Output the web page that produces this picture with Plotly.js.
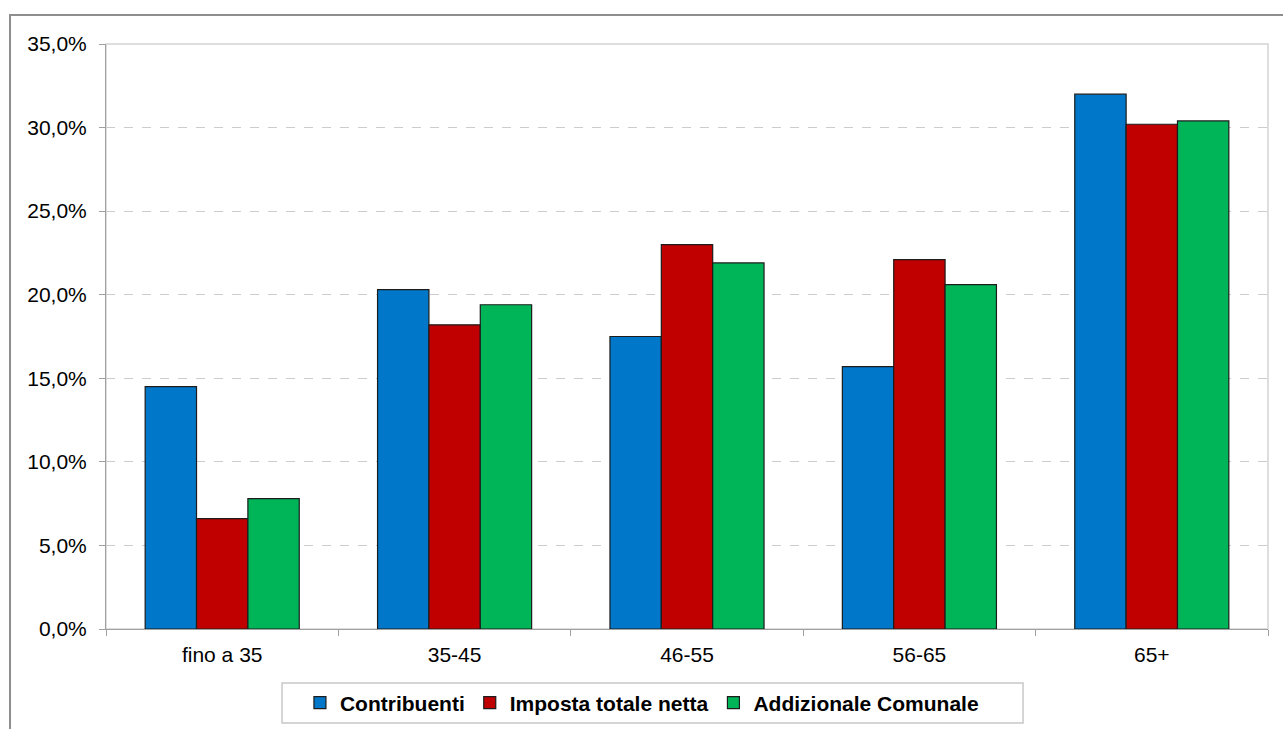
<!DOCTYPE html>
<html>
<head>
<meta charset="utf-8">
<script src="https://cdn.plot.ly/plotly-3.0.1.min.js"></script>
<style>
html,body{margin:0;padding:0;width:1283px;height:729px;overflow:hidden;background:#fff;}
#chart{position:absolute;left:0;top:0;width:1283px;height:729px;}
#frame{position:absolute;left:9px;top:14px;width:2000px;height:2000px;border:2px solid #8e8e8e;pointer-events:none;}
</style>
</head>
<body>
<div id="chart"></div>
<div id="frame"></div>
<script>
const categories = ["fino a 35", "35-45", "46-55", "56-65", "65+"];
const seriesNames = ["Contribuenti", "Imposta totale netta", "Addizionale Comunale"];
const contribuenti = [14.5, 20.3, 17.5, 15.7, 32.0];
const impostaTotaleNetta = [6.6, 18.2, 23.0, 22.1, 30.2];
const addizionaleComunale = [7.8, 19.4, 21.9, 20.6, 30.4];
const yTicks = [0, 5, 10, 15, 20, 25, 30, 35];
const yTickLabels = yTicks.map(v => v.toFixed(1).replace(".", ",") + "%");

const colors = ["#0077C8", "#C00000", "#00B558"];
const values = [contribuenti, impostaTotaleNetta, addizionaleComunale];

const traces = values.map((v, i) => ({
  type: "bar",
  name: seriesNames[i],
  x: categories,
  y: v,
  marker: {color: colors[i], line: {color: "#1c1c1c", width: 1.2}},
  hoverinfo: "x+y"
}));

const layout = {
  width: 1283,
  height: 729,
  margin: {l: 106, r: 15, t: 44, b: 100, autoexpand: false},
  paper_bgcolor: "rgba(0,0,0,0)",
  plot_bgcolor: "#fff",
  barmode: "group",
  bargap: 0.337,
  bargroupgap: 0,
  font: {family: "Liberation Sans, Arial, sans-serif", color: "#000", size: 21},
  xaxis: {
    type: "category",
    automargin: false,
    showline: true,
    linecolor: "#a0a0a0",
    linewidth: 1,
    ticks: "outside",
    tickson: "boundaries",
    ticklen: 6,
    tickcolor: "#a0a0a0",
    showgrid: false,
    tickfont: {size: 21, color: "#000"},
    ticklabelstandoff: 7
  },
  yaxis: {
    automargin: false,
    range: [0, 35],
    tickmode: "array",
    tickvals: yTicks,
    ticktext: yTickLabels,
    showline: true,
    linecolor: "#a0a0a0",
    linewidth: 1,
    ticks: "outside",
    ticklen: 6,
    tickcolor: "#a0a0a0",
    showgrid: true,
    gridcolor: "#cccccc",
    griddash: "dash",
    gridwidth: 1,
    zeroline: false,
    tickfont: {size: 21, color: "#000"},
    ticklabelstandoff: 8
  },
  shapes: [
    {
      type: "rect", xref: "paper", yref: "paper", x0: 0, x1: 1, y0: 0, y1: 1,
      line: {color: "#d4d4d4", width: 1.5}, layer: "below"
    },
    {
      type: "rect", xref: "paper", yref: "paper", x0: 0.1515, x1: 0.7892, y0: -0.1607, y1: -0.0923,
      line: {color: "#c8c8c8", width: 1.5}, fillcolor: "#fff", layer: "above"
    }
  ],
  showlegend: true,
  legend: {
    orientation: "h",
    x: 0.1669, xanchor: "left",
    y: -0.1265, yanchor: "middle",
    borderwidth: 0,
    bgcolor: "rgba(0,0,0,0)",
    font: {family: "Liberation Sans, Arial, sans-serif", size: 21, color: "#000", weight: "bold"},
    itemwidth: 30,
    traceorder: "normal"
  }
};

Plotly.newPlot("chart", traces, layout, {displayModeBar: false, staticPlot: true});
</script>
</body>
</html>
